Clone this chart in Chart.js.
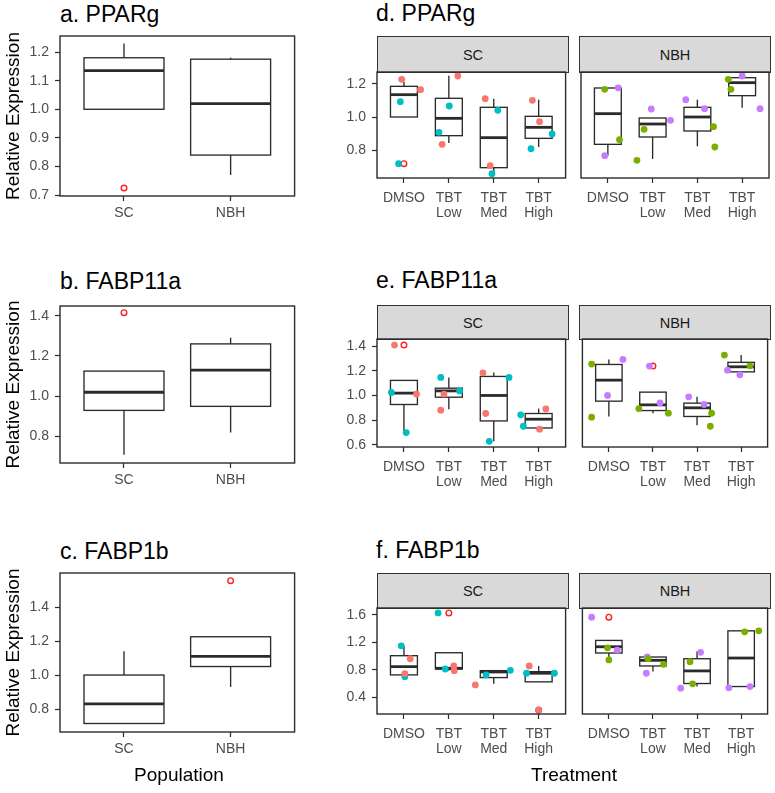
<!DOCTYPE html>
<html>
<head>
<meta charset="utf-8">
<script src="https://cdn.jsdelivr.net/npm/chart.js@4"></script>
<style>
  body { margin: 0; background: #fff; font-family: "Liberation Sans", Arial, sans-serif; }
  #page { position: relative; width: 775px; height: 793px; overflow: hidden; }
  canvas { position: absolute; }
  .ttl { position: absolute; font-size: 23px; line-height: 23px; color: #000; white-space: nowrap; }
  .axt { position: absolute; width: 200px; text-align: center; font-size: 19px; line-height: 19px; color: #000; }
  .strip { position: absolute; box-sizing: border-box; background: #d9d9d9; border: 1.3px solid #333;
           display: flex; align-items: center; justify-content: center; font-size: 14.5px; color: #1a1a1a; }
</style>
</head>
<body>
<div id="page">
  <div class="ttl" style="left:60px;top:3px">a. PPARg</div>
  <div class="ttl" style="left:60px;top:270px">b. FABP11a</div>
  <div class="ttl" style="left:60px;top:540px">c. FABP1b</div>
  <div class="ttl" style="left:376px;top:2px">d. PPARg</div>
  <div class="ttl" style="left:376px;top:269px">e. FABP11a</div>
  <div class="ttl" style="left:376px;top:539px">f. FABP1b</div>

  <div class="strip" style="left:377px;top:36px;width:192px;height:37px">SC</div>
  <div class="strip" style="left:579px;top:36px;width:192px;height:37px">NBH</div>
  <div class="strip" style="left:377px;top:305px;width:192px;height:35px">SC</div>
  <div class="strip" style="left:579px;top:305px;width:192px;height:35px">NBH</div>
  <div class="strip" style="left:377px;top:573px;width:192px;height:36px">SC</div>
  <div class="strip" style="left:579px;top:573px;width:192px;height:36px">NBH</div>

  <canvas id="pA" width="300" height="210" style="left:0;top:26px"></canvas>
  <canvas id="pB" width="300" height="207" style="left:0;top:296px"></canvas>
  <canvas id="pC" width="300" height="209" style="left:0;top:563px"></canvas>

  <canvas id="pDsc" width="261" height="166" style="left:310px;top:62px"></canvas>
  <canvas id="pDnbh" width="196" height="166" style="left:577px;top:62px"></canvas>
  <canvas id="pEsc" width="261" height="168" style="left:310px;top:329px"></canvas>
  <canvas id="pEnbh" width="196" height="168" style="left:577px;top:329px"></canvas>
  <canvas id="pFsc" width="261" height="166" style="left:310px;top:598px"></canvas>
  <canvas id="pFnbh" width="196" height="166" style="left:577px;top:598px"></canvas>

  <div class="axt" style="left:79px;top:765px">Population</div>
  <div class="axt" style="left:474px;top:765px">Treatment</div>
</div>
<script>
// categories
const populations = ['SC', 'NBH'];
const treatments = ['DMSO', 'TBT Low', 'TBT Med', 'TBT High'];

// colours
const red = '#F8766D', teal = '#00BFC4', green = '#7CAE00', purple = '#C77CFF';

// box stats: [lower whisker, q1, median, q3, upper whisker]
const ppargPop   = [[1.0, 1.0, 1.135, 1.18, 1.23], [0.77, 0.84, 1.02, 1.175, 1.18]];
const fabp11aPop = [[0.71, 0.93, 1.02, 1.125, 1.125], [0.82, 0.95, 1.13, 1.26, 1.29]];
const fabp1bPop  = [[0.715, 0.715, 0.83, 1.0, 1.14], [0.93, 1.05, 1.11, 1.225, 1.225]];

const ppargSC   = [[1.0, 1.0, 1.134, 1.184, 1.21], [0.844, 0.888, 0.992, 1.112, 1.248], [0.66, 0.696, 0.876, 1.058, 1.11], [0.82, 0.872, 0.938, 1.004, 1.104]];
const ppargNBH  = [[0.768, 0.836, 1.02, 1.174, 1.174], [0.748, 0.88, 0.958, 0.994, 0.994], [0.824, 0.916, 1.0, 1.058, 1.104], [1.056, 1.128, 1.206, 1.236, 1.246]];
const fabp11aSC = [[0.70, 0.927, 1.019, 1.122, 1.122], [0.889, 0.986, 1.037, 1.059, 1.146], [0.629, 0.794, 1.0, 1.154, 1.186], [0.737, 0.737, 0.808, 0.854, 0.894]];
const fabp11aNBH = [[0.83, 0.954, 1.124, 1.251, 1.292], [0.857, 0.878, 0.924, 1.027, 1.027], [0.759, 0.83, 0.9, 0.938, 0.989], [1.191, 1.191, 1.232, 1.268, 1.327]];
const fabp1bSC  = [[0.728, 0.728, 0.848, 1.007, 1.151], [0.79, 0.814, 0.824, 1.05, 1.05], [0.598, 0.689, 0.771, 0.79, 0.79], [0.627, 0.627, 0.752, 0.775, 0.858]];
const fabp1bNBH = [[0.945, 1.046, 1.137, 1.229, 1.229], [0.776, 0.858, 0.94, 0.988, 0.988], [0.56, 0.603, 0.786, 0.963, 1.07], [0.559, 0.559, 0.973, 1.368, 1.368]];

// outliers: [category index, value]
const ppargPopOut = [[0, 0.725]];
const fabp11aPopOut = [[0, 1.415]];
const fabp1bPopOut = [[1, 1.555]];
const ppargScOut = [[0, 0.72]];
const ppargNbhOut = [];
const fabp11aScOut = [[0, 1.408]];
const fabp11aNbhOut = [[1, 1.238]];
const fabp1bScOut = [[1, 1.628], [3, 0.217]];
const fabp1bNbhOut = [[0, 1.566]];

// individual samples: [category index, value] plus horizontal jitter
const ppargScRed = [[0, 1.226], [0, 1.164], [1, 1.246], [1, 0.836], [2, 1.11], [2, 0.708], [3, 1.10], [3, 0.972]];
const ppargScRedJit = [-0.05, 0.37, 0.20, -0.15, -0.19, -0.08, -0.14, 0.02];
const ppargScTeal = [[0, 1.092], [0, 0.72], [1, 1.066], [1, 0.908], [2, 1.04], [2, 0.66], [3, 0.898], [3, 0.81]];
const ppargScTealJit = [-0.08, -0.12, 0.01, -0.22, 0.09, -0.04, 0.30, -0.17];
const ppargNbhGreen = [[0, 1.166], [0, 0.864], [1, 0.926], [1, 0.74], [2, 0.942], [2, 0.82], [3, 1.226], [3, 1.166]];
const ppargNbhGreenJit = [-0.07, 0.26, -0.19, -0.35, 0.36, 0.39, -0.31, -0.25];
const ppargNbhPurple = [[0, 1.175], [0, 0.768], [1, 1.048], [1, 0.98], [2, 1.104], [2, 1.05], [3, 1.246], [3, 1.05]];
const ppargNbhPurpleJit = [0.23, -0.07, -0.03, 0.40, -0.26, 0.16, 0.0, 0.40];

const fabp11aScRed = [[0, 1.408], [0, 1.011], [1, 1.011], [1, 0.881], [2, 1.183], [2, 0.854], [3, 0.891], [3, 0.727]];
const fabp11aScRedJit = [-0.21, 0.28, -0.11, -0.18, -0.24, -0.18, 0.16, 0.02];
const fabp11aScTeal = [[0, 1.024], [0, 0.70], [1, 1.146], [1, 1.037], [2, 1.146], [2, 0.629], [3, 0.843], [3, 0.751]];
const fabp11aScTealJit = [-0.28, 0.05, -0.18, 0.24, 0.34, -0.10, -0.40, -0.34];
const fabp11aNbhGreen = [[0, 1.254], [0, 0.824], [1, 0.894], [1, 0.857], [2, 0.857], [2, 0.751], [3, 1.327], [3, 1.24]];
const fabp11aNbhGreenJit = [-0.39, -0.39, -0.32, 0.35, 0.33, 0.30, -0.38, 0.20];
const fabp11aNbhPurple = [[0, 1.292], [0, 1.0], [1, 1.238], [1, 0.94], [2, 0.989], [2, 0.927], [3, 1.205], [3, 1.167]];
const fabp11aNbhPurpleJit = [0.32, -0.03, -0.08, 0.16, -0.19, 0.16, -0.31, -0.03];

const fabp1bScRed = [[0, 0.963], [0, 0.747], [1, 0.858], [1, 0.79], [2, 0.583], [3, 0.858], [3, 0.217]];
const fabp1bScRedJit = [0.14, 0.02, 0.11, 0.12, -0.41, -0.21, 0.0];
const fabp1bScTeal = [[0, 1.151], [0, 0.70], [1, 1.628], [1, 0.814], [2, 0.795], [2, 0.728], [3, 0.752], [3, 0.752]];
const fabp1bScTealJit = [-0.06, 0.02, -0.24, -0.08, 0.37, -0.17, -0.27, 0.35];
const fabp1bNbhGreen = [[0, 1.122], [0, 0.945], [1, 0.963], [1, 0.882], [2, 0.92], [2, 0.598], [3, 1.354], [3, 1.368]];
const fabp1bNbhGreenJit = [-0.03, 0.0, -0.11, 0.24, -0.16, -0.10, 0.08, 0.40];
const fabp1bNbhPurple = [[0, 1.566], [0, 1.089], [1, 0.988], [1, 0.752], [2, 1.056], [2, 0.535], [3, 0.54], [3, 0.559]];
const fabp1bNbhPurpleJit = [-0.39, 0.19, -0.13, -0.15, 0.08, -0.37, -0.28, 0.20];

// y axis ranges and ticks
const ppargPopRange = [0.697, 1.256], ppargPopTicks = [0.7, 0.8, 0.9, 1.0, 1.1, 1.2];
const fabp11aPopRange = [0.669, 1.448], fabp11aPopTicks = [0.8, 1.0, 1.2, 1.4];
const fabp1bPopRange = [0.665, 1.60], fabp1bPopTicks = [0.8, 1.0, 1.2, 1.4];
const ppargTrtRange = [0.634, 1.27], ppargTrtTicks = [0.8, 1.0, 1.2];
const fabp11aTrtRange = [0.583, 1.457], fabp11aTrtTicks = [0.6, 0.8, 1.0, 1.2, 1.4];
const fabp1bTrtRange = [0.16, 1.70], fabp1bTrtTicks = [0.4, 0.8, 1.2, 1.6];

Chart.defaults.font.family = '"Liberation Sans", Arial, sans-serif';
const ink = '#2b2b2b';

// draws boxes/whiskers/medians under the points, and the panel frame on top
function boxLayer(stats, width) {
    return {
        id: 'boxLayer',
        beforeDatasetsDraw(chart) {
            const { ctx, scales: { x, y } } = chart;
            ctx.save();
            ctx.strokeStyle = ink;
            stats.forEach((s, i) => {
                const xl = x.getPixelForValue(i - width / 2);
                const xr = x.getPixelForValue(i + width / 2);
                const xc = x.getPixelForValue(i);
                const [lo, q1, med, q3, hi] = s.map(v => y.getPixelForValue(v));
                ctx.lineWidth = 1.35;
                ctx.beginPath();
                ctx.moveTo(xc, hi); ctx.lineTo(xc, q3);
                ctx.moveTo(xc, q1); ctx.lineTo(xc, lo);
                ctx.stroke();
                ctx.fillStyle = '#fff';
                ctx.fillRect(xl, q3, xr - xl, q1 - q3);
                ctx.strokeRect(xl, q3, xr - xl, q1 - q3);
                ctx.lineWidth = 2.8;
                ctx.beginPath();
                ctx.moveTo(xl, med); ctx.lineTo(xr, med);
                ctx.stroke();
            });
            ctx.restore();
        },
        afterDatasetsDraw(chart) {
            const { ctx, chartArea: a } = chart;
            ctx.save();
            ctx.strokeStyle = ink;
            ctx.lineWidth = 1.4;
            ctx.strokeRect(a.left, a.top, a.right - a.left, a.bottom - a.top);
            ctx.restore();
        }
    };
}

function samples(pts, jit, color) {
    return {
        data: pts.map((p, k) => ({ x: p[0] + jit[k], y: p[1] })),
        pointRadius: 3.4,
        pointBorderWidth: 0,
        pointBackgroundColor: color,
        pointBorderColor: color
    };
}

function panel(id, cfg) {
    const labels = cfg.cats.map(c => c.split(' '));
    const tickGrid = { display: true, drawOnChartArea: false, drawTicks: true, tickLength: 5, tickColor: ink, tickWidth: 1.2 };
    const datasets = (cfg.groups || []).map(g => samples(g[0], g[1], g[2]));
    datasets.push({
        data: cfg.outliers.map(p => ({ x: p[0], y: p[1] })),
        pointRadius: 2.8,
        pointBorderWidth: 1.4,
        pointBorderColor: '#ff2020',
        pointBackgroundColor: 'rgba(0,0,0,0)'
    });
    new Chart(document.getElementById(id), {
        type: 'scatter',
        data: { datasets: datasets },
        options: {
            responsive: false,
            animation: false,
            devicePixelRatio: 1,
            layout: { padding: cfg.pad },
            plugins: { legend: { display: false }, tooltip: { enabled: false } },
            scales: {
                x: {
                    type: 'linear',
                    min: -0.6,
                    max: cfg.cats.length - 0.4,
                    afterBuildTicks: s => { s.ticks = cfg.cats.map((c, i) => ({ value: i })); },
                    afterFit: s => { s.height = cfg.xH; s.paddingLeft = 0; s.paddingRight = 0; },
                    ticks: {
                        autoSkip: false, maxRotation: 0, padding: cfg.xPad,
                        color: '#4d4d4d', font: { size: 14, lineHeight: 1.12 },
                        callback: (v, i) => labels[i]
                    },
                    grid: tickGrid,
                    border: { display: false }
                },
                y: {
                    display: cfg.showY,
                    min: cfg.range[0],
                    max: cfg.range[1],
                    afterBuildTicks: s => { s.ticks = cfg.ticks.map(v => ({ value: v })); },
                    afterFit: s => { s.width = cfg.yW; s.paddingTop = 0; s.paddingBottom = 0; },
                    ticks: {
                        padding: 6, color: '#4d4d4d', font: { size: 14 },
                        callback: v => v.toFixed(1)
                    },
                    title: {
                        display: !!cfg.yTitle, text: cfg.yTitle || '', color: '#000',
                        font: { size: 19 }, padding: { top: 2, bottom: 0 }
                    },
                    grid: tickGrid,
                    border: { display: false }
                }
            }
        },
        plugins: [boxLayer(cfg.stats, cfg.boxW)]
    });
}

// left column: by population
const popBase = { cats: populations, boxW: 0.75, showY: true, yW: 60, xH: 40, xPad: 4,
                  pad: { top: 10, right: 3, bottom: 0, left: 0 }, yTitle: 'Relative Expression' };
panel('pA', Object.assign({}, popBase, { stats: ppargPop, outliers: ppargPopOut, range: ppargPopRange, ticks: ppargPopTicks }));
panel('pB', Object.assign({}, popBase, { stats: fabp11aPop, outliers: fabp11aPopOut, range: fabp11aPopRange, ticks: fabp11aPopTicks }));
panel('pC', Object.assign({}, popBase, { stats: fabp1bPop, outliers: fabp1bPopOut, range: fabp1bPopRange, ticks: fabp1bPopTicks }));

// right column: by treatment, faceted SC / NBH
const scBase = { cats: treatments, boxW: 0.6, showY: true, yW: 67, xH: 50, xPad: 7,
                 pad: { top: 10, right: 2, bottom: 0, left: 0 } };
const nbhBase = { cats: treatments, boxW: 0.6, showY: false, yW: 0, xH: 50, xPad: 7,
                  pad: { top: 10, right: 2, bottom: 0, left: 2 } };

panel('pDsc', Object.assign({}, scBase, { stats: ppargSC, outliers: ppargScOut, range: ppargTrtRange, ticks: ppargTrtTicks,
    groups: [[ppargScRed, ppargScRedJit, red], [ppargScTeal, ppargScTealJit, teal]] }));
panel('pDnbh', Object.assign({}, nbhBase, { stats: ppargNBH, outliers: ppargNbhOut, range: ppargTrtRange, ticks: ppargTrtTicks,
    groups: [[ppargNbhGreen, ppargNbhGreenJit, green], [ppargNbhPurple, ppargNbhPurpleJit, purple]] }));

panel('pEsc', Object.assign({}, scBase, { stats: fabp11aSC, outliers: fabp11aScOut, range: fabp11aTrtRange, ticks: fabp11aTrtTicks,
    groups: [[fabp11aScRed, fabp11aScRedJit, red], [fabp11aScTeal, fabp11aScTealJit, teal]] }));
panel('pEnbh', Object.assign({}, nbhBase, { stats: fabp11aNBH, outliers: fabp11aNbhOut, range: fabp11aTrtRange, ticks: fabp11aTrtTicks,
    groups: [[fabp11aNbhGreen, fabp11aNbhGreenJit, green], [fabp11aNbhPurple, fabp11aNbhPurpleJit, purple]] }));

panel('pFsc', Object.assign({}, scBase, { stats: fabp1bSC, outliers: fabp1bScOut, range: fabp1bTrtRange, ticks: fabp1bTrtTicks,
    groups: [[fabp1bScRed, fabp1bScRedJit, red], [fabp1bScTeal, fabp1bScTealJit, teal]] }));
panel('pFnbh', Object.assign({}, nbhBase, { stats: fabp1bNBH, outliers: fabp1bNbhOut, range: fabp1bTrtRange, ticks: fabp1bTrtTicks,
    groups: [[fabp1bNbhGreen, fabp1bNbhGreenJit, green], [fabp1bNbhPurple, fabp1bNbhPurpleJit, purple]] }));
</script>
</body>
</html>
